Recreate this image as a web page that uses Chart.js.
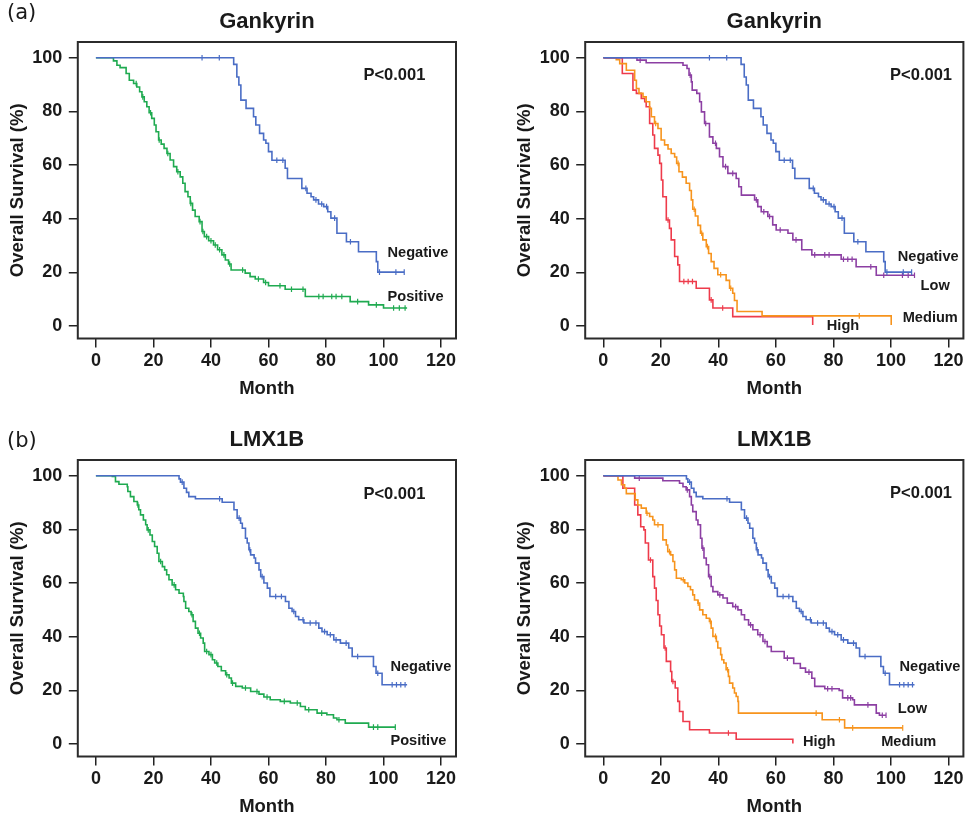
<!DOCTYPE html>
<html>
<head>
<meta charset="utf-8">
<script src="https://cdn.jsdelivr.net/npm/chart.js@4"></script>
<style>
html,body{margin:0;padding:0;background:#ffffff;}
#wrap{position:relative;width:970px;height:820px;overflow:hidden;}
.p{position:absolute;width:485px;height:402px;}
</style>
</head>
<body>
<div id="wrap">
  <div class="p" style="left:0;top:0"><canvas id="c1" width="485" height="402"></canvas></div>
  <div class="p" style="left:485px;top:0"><canvas id="c2" width="485" height="402"></canvas></div>
  <div class="p" style="left:0;top:418px"><canvas id="c3" width="485" height="402"></canvas></div>
  <div class="p" style="left:485px;top:418px"><canvas id="c4" width="485" height="402"></canvas></div>
</div>
<script>
// ---------------- data (months, overall survival %) ----------------
const monthTicks = [0, 20, 40, 60, 80, 100, 120];
const survivalTicks = [0, 20, 40, 60, 80, 100];

// Gankyrin - Negative
const gankNegT = [0,47.9,49.0,49.7,50.4,52.2,54.8,55.6,56.9,58.3,59.1,60.0,61.2,65.8,66.6,71.6,73.4,74.8,75.7,77.4,79.2,80.6,81.7,83.8,87.1,91.3,97.5,98.0,107.2];
const gankNegS = [100,97.5,92.8,89.8,84.2,81.1,78.0,74.9,71.8,69.3,68.1,65.0,61.8,58.8,55.0,51.3,49.5,48.2,47.0,45.5,44.5,42.6,40.2,34.6,31.4,27.7,24.0,20.1,20.1];
const gankNegC = [36.9,42.9,62.9,65.0,73.0,76.5,78.5,80.2,83.0,88.5,98.6,104.3,107.2];

// Gankyrin - Positive
const gankPosT = [0,6.1,7.3,8.4,10.5,11.6,13.1,14.2,15.2,16.0,16.8,17.7,18.5,19.4,20.3,20.9,21.8,22.7,23.7,24.7,25.8,27.0,28.1,29.3,30.2,31.0,32.0,32.8,33.6,34.5,35.9,36.9,37.7,39.2,40.9,42.3,43.8,45.0,46.1,47.0,51.9,53.6,55.4,58.3,60.0,65.8,72.8,88.4,94.8,100.0,108.2];
const gankPosS = [100,98.8,97.2,96.3,94.1,91.6,90.4,89.1,87.3,85.4,83.6,81.7,79.5,77.4,74.9,72.4,69.3,67.8,66.2,64.3,61.9,59.4,57.5,55.6,53.2,50.1,48.2,45.7,43.2,40.8,38.9,35.2,33.3,31.8,30.2,28.4,26.5,24.6,23.1,20.9,19.7,18.4,17.5,16.2,15.0,13.7,11.0,9.1,7.9,6.7,6.7];
const gankPosC = [14.0,16.3,19.0,22.0,25.0,28.5,33.0,36.2,37.2,38.5,40.0,41.5,43.0,44.5,46.5,51.0,56.5,59.0,64.0,68.0,72.0,77.5,79.0,82.0,83.5,85.5,91.0,97.5,103.5,105.5,107.5];

// Gankyrin - Low
const gankLowT = [0,11.7,14.9,27.7,29.1,29.8,30.6,30.9,32.5,33.5,34.1,35.2,36.9,38.1,39.3,40.4,41.6,43.3,46.2,47.1,48.0,52.6,53.7,54.9,57.2,58.9,60.1,64.2,65.9,69.0,72.5,82.7,87.9,94.9,108.2];
const gankLowS = [100,99.1,98.1,97.2,96.0,93.5,91.0,87.9,86.7,83.6,79.8,75.5,70.5,68.1,66.2,63.1,59.4,56.9,55.0,51.9,48.8,47.0,44.5,42.6,40.8,37.7,35.8,34.6,32.1,28.4,26.5,24.9,22.1,18.9,18.9];
const gankLowC = [12.8,30.2,35.6,39.0,42.5,45.0,53.2,55.8,57.8,61.5,67.0,73.5,77.0,78.5,83.5,85.0,86.5,93.0,97.5,104.0,106.0,108.2];

// Gankyrin - Medium
const gankMedT = [0,4.5,5.7,8.0,10.9,11.5,12.4,13.8,14.9,16.1,16.7,17.8,19.0,20.1,21.3,22.5,23.6,24.8,25.5,26.3,27.5,28.8,30.0,30.6,31.1,32.0,32.9,33.8,34.6,35.8,36.6,37.5,38.5,39.8,42.7,43.9,45.0,45.6,46.5,55.2,100.1];
const gankMedS = [100,99.3,97.8,95.3,91.6,88.5,86.7,85.4,83.6,81.1,78.0,75.5,73.6,69.3,67.5,66.0,64.3,63.0,60.6,57.5,55.5,53.2,50.5,47.0,43.5,41.0,37.5,34.6,32.1,29.6,27.0,24.0,21.5,19.1,17.0,14.1,12.2,9.5,5.4,3.8,0.4];
const gankMedC = [18.2,26.0,31.6,34.2,36.2,40.8,44.3,89.0];

// Gankyrin - High
const gankHighT = [0,6.6,10.3,11.5,13.2,14.4,14.9,16.1,17.2,17.8,19.0,19.6,20.2,20.7,21.9,23.0,23.6,24.8,25.9,26.5,32.3,36.9,38.1,45.0,72.8];
const gankHighS = [100,94.1,87.9,86.7,84.8,83.6,81.7,75.5,71.2,66.2,63.7,60.6,54.4,48.2,39.5,36.4,32.1,25.9,22.8,16.6,14.1,9.75,6.7,3.5,0.4];
const gankHighC = [22.5,28.0,29.5,31.0,37.5,41.5];

// LMX1B - Negative
const lmxNegT = [0,28.9,29.4,30.6,31.5,32.3,34.6,43.9,48.0,49.1,50.3,50.9,52.0,52.6,53.2,53.8,55.0,55.5,56.7,57.3,58.4,59.6,60.5,65.9,67.1,68.2,69.4,70.5,72.3,77.5,78.6,80.4,82.7,85.0,87.9,89.1,96.5,97.4,99.5,108.2];
const lmxNegS = [100,98.8,97.6,95.3,93.8,92.2,91.4,90.1,87.3,84.2,82.3,80.4,76.7,74.9,72.4,70.5,69.3,67.4,64.9,62.4,60.0,58.1,55.0,53.1,50.6,49.4,47.5,46.3,45.1,43.2,41.9,40.7,38.8,37.6,35.8,32.6,28.9,26.4,22.1,22.1];
const lmxNegC = [30.0,43.0,49.8,53.5,57.8,62.5,64.5,68.8,72.0,74.5,76.5,79.5,81.5,83.5,87.0,91.0,98.0,103.0,104.5,106.0,107.5];

// LMX1B - Positive
const lmxPosT = [0,5.7,6.8,8.0,10.9,11.1,12.0,13.2,14.4,14.9,15.5,16.5,17.3,17.8,18.8,19.6,20.4,21.3,21.9,23.1,23.9,24.6,25.4,26.5,27.7,28.9,30.4,30.6,31.2,32.3,33.1,33.8,34.6,35.5,36.4,37.3,37.8,39.3,40.5,41.3,42.4,43.6,45.1,46.3,47.1,48.6,50.9,53.8,56.7,58.4,60.6,64.1,67.6,71.1,72.8,76.9,80.3,82.6,83.8,86.7,94.8,104.1];
const lmxPosS = [100,99.7,97.8,96.8,95.9,94.1,92.2,90.4,89.1,87.3,85.4,83.5,81.7,79.8,77.9,75.5,73.6,71.1,68.0,66.1,64.9,63.1,61.2,59.3,57.5,56.2,55.0,53.1,50.6,49.4,48.2,45.7,43.2,41.3,39.5,37.6,34.5,33.3,31.4,30.2,28.9,27.3,25.8,24.6,22.7,21.5,20.9,19.6,18.6,17.5,16.5,15.9,15.3,14.0,12.8,11.5,10.9,9.7,9.05,7.8,6.3,6.3];
const lmxPosC = [14.6,18.2,22.5,27.2,33.4,36.0,38.5,40.0,42.0,45.5,47.5,52.0,56.0,59.5,65.5,70.0,74.0,78.5,84.5,96.5,98.0,104.1];

// LMX1B - Low
const lmxLowT = [0,10.9,20.7,26.5,27.7,28.8,30.0,30.6,31.1,32.3,32.9,33.8,34.3,35.0,35.8,36.6,37.5,38.1,39.8,41.6,43.1,45.0,46.8,48.0,49.1,50.5,52.0,53.7,55.5,57.0,58.4,62.9,66.2,68.5,70.3,72.5,73.5,77.0,82.0,83.2,86.7,87.3,94.9,96.0,98.3];
const lmxLowS = [100,99.1,98.1,97.2,95.9,94.7,92.2,89.1,86.6,83.5,81.7,76.7,73.0,69.3,66.8,62.4,58.7,56.8,55.6,54.4,52.5,51.2,50.0,48.2,46.3,44.4,42.6,40.7,38.2,36.3,34.5,32.0,30.0,28.3,26.8,24.5,21.5,20.6,20.0,17.2,16.5,14.6,11.5,10.7,10.7];
const lmxLowC = [12.5,29.2,34.6,37.0,40.5,46.0,51.2,54.5,56.2,64.0,71.5,78.0,79.5,85.0,86.0,92.0,97.0,98.3];

// LMX1B - Medium
const lmxMedT = [0,5.1,6.3,7.4,8.0,11.1,12.0,13.2,14.9,16.1,17.2,17.8,20.7,21.9,22.4,23.4,24.2,24.8,25.4,27.1,28.3,29.4,30.3,31.1,31.7,32.9,33.5,34.6,35.8,36.9,37.5,38.1,39.3,39.8,40.8,41.2,41.9,42.7,43.5,43.9,45.0,45.6,46.2,46.8,47.0,76.1,83.9,104.1];
const lmxMedS = [100,98.4,96.6,95.3,93.3,91.0,89.1,87.9,86.0,84.8,83.5,81.7,76.1,74.2,71.7,70.5,68.0,64.9,61.8,61.2,60.0,58.7,57.5,55.6,53.7,52.5,50.0,48.2,46.9,45.7,43.2,40.1,38.2,35.8,33.3,31.4,30.2,27.7,25.2,22.7,20.9,19.0,17.7,15.9,11.5,9.05,6.0,6.0];
const lmxMedC = [15.2,19.0,23.0,27.8,33.0,37.2,39.0,43.2,74.0,82.1,86.7,104.1];

// LMX1B - High
const lmxHighT = [0,6.8,10.9,12.0,13.0,14.1,14.6,15.7,17.2,17.8,18.4,19.0,19.6,20.2,21.1,21.9,23.4,23.8,25.0,25.9,26.5,27.7,30.0,36.9,46.2,65.9];
const lmxHighS = [100,95.3,89.1,85.4,81.0,79.8,74.9,68.6,62.4,58.1,53.5,48.2,44.0,40.7,35.8,30.8,27.0,23.3,20.9,15.9,12.1,8.4,5.3,4.1,1.8,0.2];
const lmxHighC = [16.4,21.5,24.2,43.5];

// ---------------- styling ----------------
const FONT = "'Liberation Sans', Arial, Helvetica, sans-serif";
const INK = '#1a1a1a';
const COL = {neg:'#4a6dc5', pos:'#1faa50', low:'#8c3fa3', med:'#f7941d', high:'#ee3b4b'};
const X_MIN = -6.3, X_MAX = 125.2, Y_MIN = -4.65, Y_MAX = 105.85;

function pts(t, s) { return t.map((v, i) => ({x: v, y: s[i]})); }
function kmAt(t, s, time) {
  let v = s[0];
  for (let i = 0; i < t.length; i++) { if (t[i] <= time) v = s[i]; else break; }
  return v;
}
function curve(t, s, c, color) {
  return [
    {data: pts(t, s), borderColor: color, borderWidth: 1.6, stepped: true,
     pointRadius: 0, pointHoverRadius: 0, fill: false, tension: 0},
    {data: c.map(x => ({x: x, y: kmAt(t, s, x)})), showLine: false,
     pointStyle: 'line', rotation: 90, pointRadius: 2.8, pointHoverRadius: 0,
     pointBorderColor: color, pointBackgroundColor: color, pointBorderWidth: 1.2, borderColor: color}
  ];
}

const boxPlugin = {
  id: 'box',
  afterDatasetsDraw(chart) {
    const {ctx, chartArea: a} = chart;
    ctx.save();
    ctx.strokeStyle = '#2b2b2b';
    ctx.lineWidth = 2;
    ctx.strokeRect(a.left, a.top, a.right - a.left, a.bottom - a.top);
    ctx.restore();
  }
};

function notesPlugin(tag, notes) {
  return {
    id: 'notes',
    afterDraw(chart) {
      const ctx = chart.ctx, xs = chart.scales.x, ys = chart.scales.y;
      ctx.save();
      ctx.fillStyle = INK;
      ctx.textBaseline = 'middle';
      ctx.textAlign = 'left';
      if (tag) {
        ctx.font = "normal 21px 'DejaVu Sans', sans-serif";
        ctx.fillText(tag.text, tag.px, tag.py);
      }
      notes.forEach(n => {
        ctx.font = 'bold ' + n.size + 'px ' + FONT;
        ctx.fillText(n.text, xs.getPixelForValue(n.x), ys.getPixelForValue(n.y));
      });
      ctx.restore();
    }
  };
}

function panel(id, title, datasets, padLeft, padRight, tag, notes) {
  const tickFont = {family: FONT, size: 18, weight: 'bold'};
  const titleFont = {family: FONT, size: 18.5, weight: 'bold'};
  return new Chart(document.getElementById(id), {
    type: 'line',
    data: {datasets: datasets},
    options: {
      responsive: false, animation: false, events: [],
      layout: {padding: {left: padLeft, right: padRight, top: 0, bottom: 0}},
      plugins: {
        legend: {display: false},
        tooltip: {enabled: false},
        title: {display: true, text: title, fullSize: false, color: INK,
                font: {family: FONT, size: 22, weight: 'bold'}, padding: {top: 8.5, bottom: 7.1}}
      },
      scales: {
        x: {
          type: 'linear', min: X_MIN, max: X_MAX,
          afterBuildTicks: s => { s.ticks = monthTicks.map(v => ({value: v})); },
          afterFit: s => { s.height = 63.5; },
          grid: {display: true, drawOnChartArea: false, drawTicks: true, tickLength: 9, color: '#222', lineWidth: 1.5},
          border: {display: false},
          ticks: {font: tickFont, color: INK, padding: 2.5, maxRotation: 0, autoSkip: false},
          title: {display: true, text: 'Month', font: titleFont, color: INK, padding: {top: 0, bottom: 1.9}}
        },
        y: {
          type: 'linear', min: Y_MIN, max: Y_MAX,
          afterBuildTicks: s => { s.ticks = survivalTicks.map(v => ({value: v})); },
          afterFit: s => { s.width = 77.8; },
          grid: {display: true, drawOnChartArea: false, drawTicks: true, tickLength: 9, color: '#222', lineWidth: 1.5},
          border: {display: false},
          ticks: {font: tickFont, color: INK, padding: 6.5, autoSkip: false},
          title: {display: true, text: 'Overall Survival (%)', font: titleFont, color: INK, padding: {top: 6.4, bottom: 0}}
        }
      }
    },
    plugins: [boxPlugin, notesPlugin(tag, notes)]
  });
}

const LBL = 14.6, PV = 16.5;

panel('c1', 'Gankyrin',
  [].concat(curve(gankNegT, gankNegS, gankNegC, COL.neg), curve(gankPosT, gankPosS, gankPosC, COL.pos)),
  0, 29, {text: '(a)', px: 7, py: 14},
  [{text: 'P<0.001', x: 93.0, y: 93.2, size: PV},
   {text: 'Negative', x: 101.4, y: 27.4, size: LBL},
   {text: 'Positive', x: 101.4, y: 11.0, size: LBL}]);

panel('c2', 'Gankyrin',
  [].concat(curve(gankNegT, gankNegS, gankNegC, COL.neg), curve(gankLowT, gankLowS, gankLowC, COL.low),
            curve(gankMedT, gankMedS, gankMedC, COL.med), curve(gankHighT, gankHighS, gankHighC, COL.high)),
  22.4, 6.6, null,
  [{text: 'P<0.001', x: 99.7, y: 93.2, size: PV},
   {text: 'Negative', x: 102.4, y: 25.8, size: LBL},
   {text: 'Low', x: 110.3, y: 15.0, size: LBL},
   {text: 'Medium', x: 104.1, y: 3.0, size: LBL},
   {text: 'High', x: 77.7, y: -0.1, size: LBL}]);

panel('c3', 'LMX1B',
  [].concat(curve(lmxNegT, lmxNegS, lmxNegC, COL.neg), curve(lmxPosT, lmxPosS, lmxPosC, COL.pos)),
  0, 29, {text: '(b)', px: 7, py: 23.5},
  [{text: 'P<0.001', x: 93.0, y: 93.1, size: PV},
   {text: 'Negative', x: 102.4, y: 28.9, size: LBL},
   {text: 'Positive', x: 102.4, y: 1.2, size: LBL}]);

panel('c4', 'LMX1B',
  [].concat(curve(lmxNegT, lmxNegS, lmxNegC, COL.neg), curve(lmxLowT, lmxLowS, lmxLowC, COL.low),
            curve(lmxMedT, lmxMedS, lmxMedC, COL.med), curve(lmxHighT, lmxHighS, lmxHighC, COL.high)),
  22.4, 6.6, null,
  [{text: 'P<0.001', x: 99.7, y: 93.3, size: PV},
   {text: 'Negative', x: 103.0, y: 28.8, size: LBL},
   {text: 'Low', x: 102.4, y: 13.1, size: LBL},
   {text: 'Medium', x: 96.6, y: 0.9, size: LBL},
   {text: 'High', x: 69.4, y: 0.9, size: LBL}]);
</script>
</body>
</html>
